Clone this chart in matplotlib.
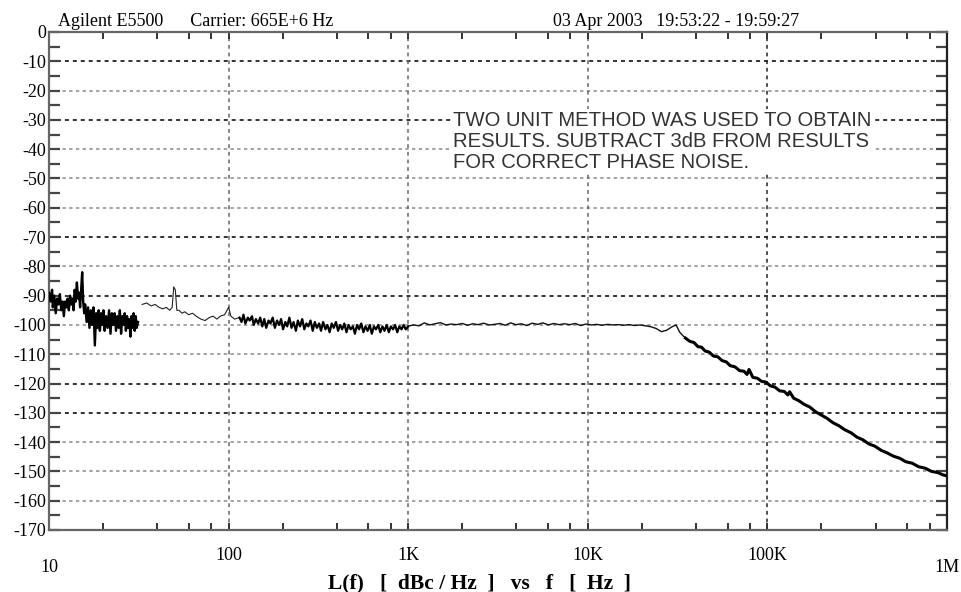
import matplotlib
matplotlib.use("Agg")
import matplotlib.pyplot as plt
from matplotlib.ticker import FixedLocator, NullFormatter

# trace (Hz, dBc/Hz)
f_low = [10.0, 10.2, 10.4, 10.5, 10.7, 10.9, 11.1, 11.3, 11.5, 11.7,
         11.9, 12.1, 12.3, 12.5, 12.7, 12.9, 13.1, 13.3, 13.5, 13.7,
         13.9, 14.1, 14.3, 14.5, 14.7, 14.9, 15.1, 15.3, 15.5, 15.7,
         15.9, 16.2, 16.5, 16.8, 17.1, 17.4, 17.7, 18.0, 18.3, 18.6,
         18.9, 19.2, 19.5, 19.8, 20.1, 20.4, 20.8, 21.2, 21.6, 22.0,
         22.4, 22.8, 23.2, 23.6, 24.0, 24.4, 24.8, 25.2, 25.6, 26.0,
         26.4, 26.8, 27.2, 27.6, 28.0, 28.4, 28.8, 29.2, 29.6, 30.0,
         30.4, 30.8, 31.3]
db_low = [-89, -92, -88, -94, -90, -96, -91, -93, -89.5, -95,
          -92, -97, -92, -94, -91, -95, -90, -93, -91, -95,
          -88, -92, -85.5, -91, -89, -94, -88, -82, -92, -96,
          -93, -99, -94, -101, -95, -100, -94, -107, -96, -101,
          -95, -102, -96, -100, -95, -102, -97, -101, -95, -103,
          -96, -100, -96, -102, -97, -101, -95, -103, -97, -100,
          -96, -102, -97, -101, -98, -104, -97, -101, -96, -102,
          -97, -101, -99]

f_thin = [33, 35, 37, 39, 41, 43, 45, 47, 48.5, 49.5, 50.5, 51.5, 53, 55, 57, 60, 63, 66,
          70, 74, 78, 82, 86, 90, 95, 100, 103, 108, 115]
db_thin = [-93, -92.5, -93.5, -93, -94, -94.5, -94, -95, -94, -87, -88, -95, -95, -96,
           -95.5, -96.5, -96, -97, -98, -98.5, -97.5, -97, -98, -97, -96.5, -94, -97, -98,
           -97.5]

f_mid = [115, 118, 121, 124, 128, 131, 135, 138, 142, 146,
         150, 154, 158, 162, 167, 171, 176, 181, 186, 191,
         196, 201, 207, 212, 218, 224, 230, 237, 243, 250,
         257, 264, 271, 278, 286, 294, 302, 310, 319, 327,
         336, 346, 355, 365, 375, 385, 396, 407, 418, 429,
         441, 453, 466, 478, 492, 505, 519, 533, 548, 563,
         578, 594, 611, 627, 645, 662, 681, 699, 719, 738,
         759, 780, 801, 823, 846, 869, 893, 918, 943, 969,
         1000]
db_mid = [-97.5, -99, -96.5, -99.5, -97.5, -98.5, -97, -100, -98, -99.5,
          -97.5, -100.5, -98, -101, -98.5, -99.5, -97.5, -101, -98.5, -100,
          -98, -101.5, -99, -100.5, -97.5, -101, -99, -102, -98.5, -100.5,
          -98, -101.5, -99.5, -100.5, -98.5, -102, -99, -101, -99.5, -102,
          -99, -101.5, -100, -102.5, -99.5, -101, -99, -102, -100, -101.5,
          -99.5, -102.5, -100, -101.5, -100.5, -103, -100, -101.5, -99.5, -102.5,
          -100.5, -102, -100, -103, -100.5, -101.5, -100, -102.5, -100.5, -102,
          -100, -102.5, -100.5, -101.5, -100, -102.5, -100.5, -101.5, -100, -101.5,
          -100.5]

f_flat = [1000, 1070, 1150, 1230, 1320, 1410, 1510, 1620, 1740, 1860,
          2000, 2140, 2290, 2450, 2630, 2820, 3020, 3240, 3470, 3720,
          3980, 4270, 4570, 4900, 5250, 5620, 6030, 6460, 6920, 7410,
          7940, 8510, 9120, 9770, 10500, 11200, 12000, 12900, 13800, 14800,
          15800, 17000, 18200, 19500, 20900, 22400, 24000, 25700, 27500, 29500,
          31000, 32500, 34000, 35000]
db_flat = [-100.4, -100, -100.3, -99.3, -100, -99.6, -99.2, -100, -99.7, -99.9,
           -99.5, -100.1, -99.6, -99.9, -99.4, -100, -99.8, -99.5, -100.1, -99.3,
           -99.9, -99.6, -100.2, -99.4, -99.8, -99.3, -100, -99.5, -99.9, -99.6,
           -99.9, -99.5, -100.2, -99.7, -100, -99.8, -100.1, -99.8, -100, -99.9,
           -100.1, -99.9, -100.2, -100, -100.3, -100.6, -101.2, -102.3, -101.8, -100.6,
           -100, -102.5, -103.8, -104.5]

f_roll = [35000, 37000, 39000, 41000, 43000, 45000, 47500, 50000, 53000, 56000,
          59000, 62000, 66000, 70000, 74000, 77000, 79000, 83000, 88000, 93000,
          98000, 104000, 110000, 117000, 124000, 130000, 133000, 140000, 150000, 160000,
          172000, 185000, 200000, 215000, 232000, 250000, 270000, 292000, 315000, 340000,
          367000, 397000, 430000, 465000, 503000, 545000, 590000, 640000, 695000, 755000,
          820000, 890000, 950000, 1000000]
db_roll = [-104.5, -105.6, -106.0, -107.4, -107.6, -108.9, -109.3, -110.6, -110.9, -112.2,
           -112.6, -113.9, -114.3, -115.6, -115.8, -116.9, -115.2, -117.9, -118.2, -119.3,
           -119.5, -120.8, -121.2, -122.5, -122.7, -123.9, -122.8, -125.0, -125.9, -127.1,
           -128.0, -129.6, -130.8, -131.9, -133.4, -134.4, -135.8, -136.8, -138.3, -139.2,
           -140.6, -141.4, -142.8, -143.7, -144.8, -145.5, -146.7, -147.2, -148.4, -148.9,
           -150.0, -150.4, -151.2, -151.5]

x_ticks = [10, 100, 1e3, 1e4, 1e5, 1e6]
x_labels = ["10", "100", "1K", "10K", "100K", "1M"]
y_ticks = list(range(0, -171, -10))
dark_rows = [-10, -30, -70, -90, -120, -130]

serif = "Liberation Serif"
sans = "Liberation Sans"

fig = plt.figure(figsize=(9.61, 5.92), dpi=100)
ax = fig.add_axes([49 / 961, 1 - 530 / 592, 898 / 961, 498 / 592])
ax.set_xscale("log")
ax.set_xlim(10, 1e6)
ax.set_ylim(-170, 0)

# grid
for y in y_ticks[1:-1]:
    if y in dark_rows:
        ax.axhline(y, color="#222222", lw=1.3, ls=(0, (2.2, 2.2)), zorder=1)
    else:
        ax.axhline(y, color="#8a8a8a", lw=1.1, ls=(0, (2.2, 2.2)), zorder=1)
for x in x_ticks[1:-1]:
    c = "#222222" if x == 1e5 else "#666666"
    ax.axvline(x, color=c, lw=1.1, ls=(0, (2.5, 2.5)), zorder=1)

# trace
ax.plot(f_low, db_low, color="black", lw=1.7, zorder=3)
ax.plot(f_thin, db_thin, color="#222222", lw=0.8, zorder=3)
ax.plot(f_mid, db_mid, color="black", lw=1.6, zorder=3)
ax.plot(f_flat, db_flat, color="#111111", lw=1.0, zorder=3)
ax.plot(f_roll, db_roll, color="black", lw=2.2, zorder=3)

# axes frame / ticks
for s in ax.spines.values():
    s.set_color("#666666")
    s.set_linewidth(1.6)
ax.spines["right"].set_color("#222222")

ax.xaxis.set_major_locator(FixedLocator(x_ticks))
minors = [m * d for d in [10, 100, 1e3, 1e4, 1e5] for m in (2, 4, 6, 8)]
ax.xaxis.set_minor_locator(FixedLocator(minors))
ax.xaxis.set_minor_formatter(NullFormatter())
ax.set_xticklabels(["", "100", "1K", "10K", "100K", ""], family=serif, fontsize=13)
ax.set_yticks(y_ticks)
ax.set_yticks(list(range(-5, -170, -10)), minor=True)
ax.set_yticklabels([str(v) for v in y_ticks], family=serif, fontsize=13)

ax.tick_params(axis="x", which="both", direction="in", top=True, bottom=True,
               length=5, width=1.4, color="#333333", pad=12)
ax.tick_params(axis="y", which="both", direction="in", left=True, right=True,
               length=8, width=1.6, color="#444444", pad=2)

# the two outer labels sit lower
ax.text(10, -0.076, x_labels[0], transform=ax.get_xaxis_transform(), ha="center",
        va="center", family=serif, fontsize=13)
ax.text(1e6, -0.076, x_labels[-1], transform=ax.get_xaxis_transform(), ha="center",
        va="center", family=serif, fontsize=13)

fig.text(479 / 961, 1 - 583 / 592, "L(f)   [  dBc / Hz  ]   vs   f   [  Hz  ]", ha="center",
         va="center", family=serif, fontsize=15.5, fontweight="bold")

# header
fig.text(58 / 961, 1 - 22 / 592, "Agilent E5500      Carrier: 665E+6 Hz", ha="left",
         va="center", family=serif, fontsize=13)
fig.text(553 / 961, 1 - 22 / 592, "03 Apr 2003   19:53:22 - 19:59:27", ha="left",
         va="center", family=serif, fontsize=13)

note = ("TWO UNIT METHOD WAS USED TO OBTAIN\n"
        "RESULTS. SUBTRACT 3dB FROM RESULTS\n"
        "FOR CORRECT PHASE NOISE.")
ax.text((453 - 49) / 898, (530 - 111) / 498, note, transform=ax.transAxes, ha="left",
        va="top", family=sans, fontsize=14.6, color="#333333", linespacing=1.12,
        bbox=dict(facecolor="white", edgecolor="none", pad=1.5), zorder=4)

fig.savefig("out.png", dpi=100)
